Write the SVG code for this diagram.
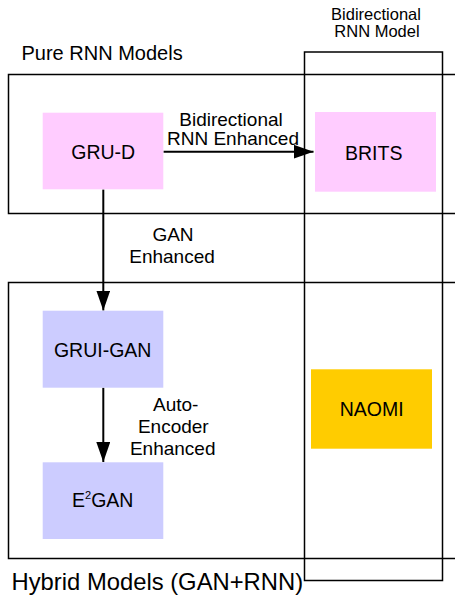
<svg xmlns="http://www.w3.org/2000/svg" width="455" height="601" viewBox="0 0 455 601">
<style>
text{font-family:"Liberation Sans",Arial,sans-serif;fill:#000;}
.frame{fill:none;stroke:#000;stroke-width:1.5;}
.lbl{font-size:19.5px;text-anchor:middle;}
.edge{font-size:19px;text-anchor:middle;}
.pink{fill:#ffccff;}
.blue{fill:#ccccff;}
.gold{fill:#ffcc00;}
.conn{stroke:#000;stroke-width:2;fill:none;}
</style>
<defs>
<marker id="ah" markerUnits="userSpaceOnUse" markerWidth="20" markerHeight="14" refX="20" refY="7" orient="auto">
<polygon points="0,0 20,7 0,14" fill="#000"/>
</marker>
</defs>
<rect width="455" height="601" fill="#fff"/>
<g id="pure-rnn-group">
<rect class="frame" x="8.5" y="74.5" width="460" height="139"/>
<text x="21.5" y="59.5" font-size="20">Pure RNN Models</text>
</g>
<g id="hybrid-group">
<rect class="frame" x="8.5" y="282.5" width="460" height="276"/>
<text x="11.5" y="589.5" font-size="23.8">Hybrid Models (GAN+RNN)</text>
</g>
<g id="bidirectional-group">
<rect class="frame" x="304.5" y="52" width="138" height="528.5"/>
<text x="376" y="20" font-size="16.5" text-anchor="middle">Bidirectional</text>
<text x="377" y="36.7" font-size="16.5" text-anchor="middle">RNN Model</text>
</g>
<g id="connectors">
<line class="conn" x1="163.5" y1="151.7" x2="313.5" y2="151.7" marker-end="url(#ah)"/>
<line class="conn" x1="103.3" y1="189.5" x2="103.3" y2="310.5" marker-end="url(#ah)"/>
<line class="conn" x1="103.3" y1="387.7" x2="103.3" y2="462" marker-end="url(#ah)"/>
<text class="edge" x="231" y="126">Bidirectional</text>
<text class="edge" x="233" y="145">RNN Enhanced</text>
<text class="edge" x="173" y="240.7">GAN</text>
<text class="edge" x="172" y="262.5">Enhanced</text>
<text class="edge" x="175.7" y="410.7">Auto-</text>
<text class="edge" x="173.3" y="433.3">Encoder</text>
<text class="edge" x="172.7" y="455">Enhanced</text>
</g>
<g id="gru-d">
<rect class="pink" x="42.7" y="112.7" width="120.6" height="76.6"/>
<text class="lbl" x="103.2" y="159.3">GRU-D</text>
</g>
<g id="brits">
<rect class="pink" x="315" y="112" width="121" height="79.7"/>
<text class="lbl" x="373.7" y="159.5">BRITS</text>
</g>
<g id="grui-gan">
<rect class="blue" x="42.7" y="310.7" width="120.6" height="77"/>
<text class="lbl" x="102.7" y="356.7">GRUI-GAN</text>
</g>
<g id="e2gan">
<rect class="blue" x="42.7" y="462.3" width="120.6" height="76.7"/>
<text class="lbl" x="102.7" y="507.3">E<tspan font-size="11" dy="-8">2</tspan><tspan dy="8">GAN</tspan></text>
</g>
<g id="naomi">
<rect class="gold" x="311" y="369.3" width="121" height="79.4"/>
<text class="lbl" x="371.7" y="416">NAOMI</text>
</g>
</svg>
